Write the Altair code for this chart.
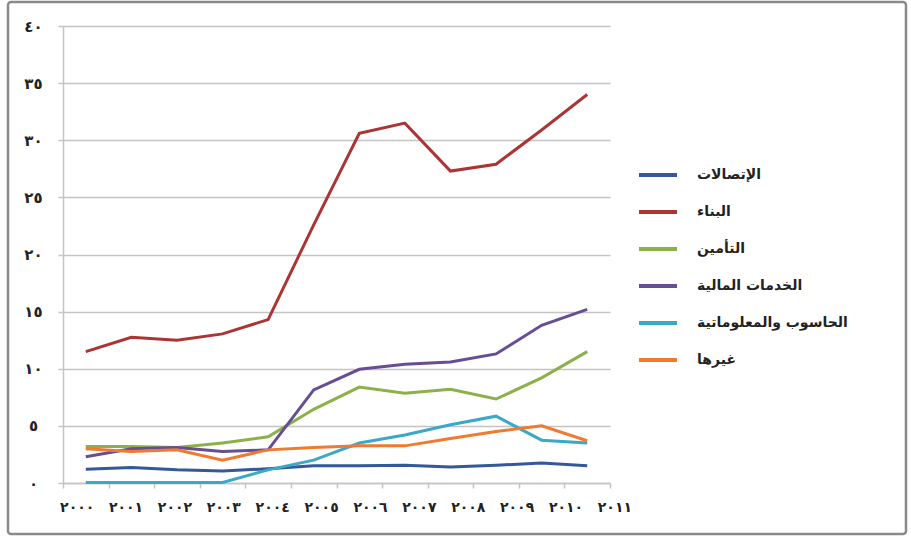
import altair as alt
import pandas as pd

# ---- data ----
years = ["2000", "2001", "2002", "2003", "2004", "2005",
         "2006", "2007", "2008", "2009", "2010", "2011"]
year_nums = [2000, 2001, 2002, 2003, 2004, 2005, 2006, 2007, 2008, 2009, 2010, 2011]
year_labels = ["٢٠٠٠", "٢٠٠١", "٢٠٠٢", "٢٠٠٣", "٢٠٠٤", "٢٠٠٥",
               "٢٠٠٦", "٢٠٠٧", "٢٠٠٨", "٢٠٠٩", "٢٠١٠", "٢٠١١"]

series_names = ["الإتصالات", "البناء", "التأمين", "الخدمات المالية",
                "الحاسوب والمعلوماتية", "غيرها"]

telecom      = [1.2, 1.35, 1.15, 1.05, 1.25, 1.5, 1.5, 1.55, 1.4, 1.55, 1.75, 1.5]
construction = [11.5, 12.75, 12.5, 13.05, 14.3, 22.6, 30.6, 31.5, 27.3, 27.9, 30.9, 34.0]
insurance    = [3.2, 3.2, 3.1, 3.5, 4.05, 6.45, 8.4, 7.85, 8.2, 7.35, 9.2, 11.5]
financial    = [2.3, 3.0, 3.1, 2.75, 2.9, 8.15, 9.95, 10.4, 10.6, 11.3, 13.8, 15.2]
computing    = [0.05, 0.05, 0.05, 0.05, 1.15, 2.0, 3.5, 4.2, 5.1, 5.85, 3.75, 3.5]
others       = [3.0, 2.75, 2.9, 2.0, 2.9, 3.1, 3.25, 3.25, 3.9, 4.5, 5.0, 3.7]

series_values = [telecom, construction, insurance, financial, computing, others]
colors = ["#34589a", "#ab3434", "#8cb04a", "#674d93", "#3aa8c6", "#f07a30"]

y_ticks = [0, 5, 10, 15, 20, 25, 30, 35, 40]

rows = []
for name, vals in zip(series_names, series_values):
    for yr, v in zip(years, vals):
        rows.append({"year": yr, "series": name, "value": v})
df = pd.DataFrame(rows)

labels_df = pd.DataFrame({"num": year_nums, "label": year_labels})

arabic_digits = "٠١٢٣٤٥٦٧٨٩"
expr = "datum.label"
for d in range(10):
    expr = f"replace({expr}, regexp('{d}','g'), '{arabic_digits[d]}')"

FONT = "DejaVu Sans"
GRID = "#c4c4c4"

lines = alt.Chart(df).mark_line(strokeWidth=3).encode(
    x=alt.X("year:N", sort=years, bandPosition=0.5,
            scale=alt.Scale(type="band", paddingInner=0, paddingOuter=0),
            axis=alt.Axis(labels=False, title=None, grid=False, tickBand="extent",
                          ticks=True, tickSize=5, tickColor=GRID, tickWidth=1.5,
                          domainColor=GRID, domainWidth=1.5)),
    y=alt.Y("value:Q", scale=alt.Scale(domain=[0, 40], nice=False, zero=True),
            axis=alt.Axis(values=y_ticks, labelExpr=expr, title=None, grid=True,
                          gridColor=GRID, gridWidth=1.5, tickSize=5, tickColor=GRID,
                          tickWidth=1.5, domainColor=GRID, domainWidth=1.5,
                          labelAlign="center", labelPadding=25, labelFont=FONT,
                          labelFontSize=15, labelFontWeight="bold", labelColor="#222222")),
    color=alt.Color("series:N", sort=series_names,
                    scale=alt.Scale(domain=series_names, range=colors),
                    legend=alt.Legend(title=None, orient="none", legendX=574, legendY=128,
                                      symbolType="stroke", symbolSize=1444,
                                      symbolStrokeWidth=4, labelOffset=18, rowPadding=8,
                                      padding=0, labelFont=FONT, labelFontSize=14,
                                      labelFontWeight="bold", labelColor="#222222")),
)

xlabels = alt.Chart(labels_df).mark_text(font=FONT, fontSize=14, fontWeight="bold",
                                         color="#222222", baseline="middle",
                                         align="center").encode(
    x=alt.X("num:Q", scale=alt.Scale(domain=[1999.71, 2010.9], nice=False, zero=False),
            axis=None),
    y=alt.value(482),
    text="label:N",
)

frame = alt.Chart(pd.DataFrame({"k": [0]})).mark_rect(
    fill=None, stroke="#8a8a8a", strokeWidth=2.5, cornerRadius=3).encode(
    x=alt.value(-55), x2=alt.value(843), y=alt.value(-24), y2=alt.value(508))

chart = alt.layer(frame, lines, xlabels).resolve_scale(x="independent").properties(
    width=547, height=457,
    autosize=alt.AutoSizeParams(type="none"),
    padding={"left": 63, "top": 26, "right": 301, "bottom": 56},
    background="white",
).configure_view(stroke=None)

chart.save("out.html", embed_options={"renderer": "svg", "actions": False})
